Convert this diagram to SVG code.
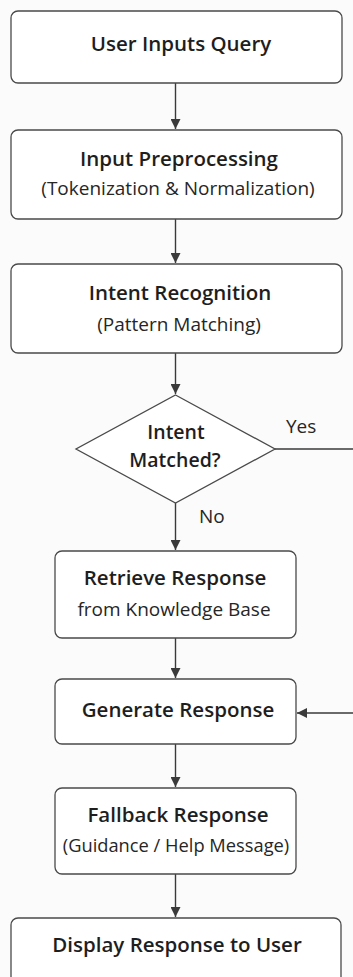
<svg xmlns="http://www.w3.org/2000/svg" width="353" height="977" viewBox="0 0 353 977">
  <style>
    .box { fill: #ffffff; stroke: #4a4a4a; stroke-width: 1.3; }
    .edge { fill: none; stroke: #3a3a3a; stroke-width: 1.4; }
    .title { font-family: "Open Sans", "Noto Sans", sans-serif; font-size: 20.5px; font-weight: 600; fill: #1e1e1e; text-anchor: middle; }
    .sub { font-family: "Open Sans", "Noto Sans", sans-serif; font-size: 19px; fill: #262626; text-anchor: middle; }
    .lbl { font-family: "Open Sans", "Noto Sans", sans-serif; font-size: 19px; fill: #262626; }
  </style>
  <defs>
    <marker id="arrow" viewBox="0 0 10 10" refX="10" refY="5" markerWidth="10" markerHeight="10" markerUnits="userSpaceOnUse" orient="auto">
      <path d="M0,0 L10,5 L0,10 z" fill="#3a3a3a"/>
    </marker>
  </defs>
  <rect width="353" height="977" fill="#fbfbfb"/>

  <g id="connectors">
    <path class="edge" d="M175.5,83 V129" marker-end="url(#arrow)"/>
    <path class="edge" d="M175.5,219 V263" marker-end="url(#arrow)"/>
    <path class="edge" d="M175.5,353 V394" marker-end="url(#arrow)"/>
    <path class="edge" d="M175.5,503 V550" marker-end="url(#arrow)"/>
    <path class="edge" d="M275,449 H353"/>
    <path class="edge" d="M175.5,638 V678" marker-end="url(#arrow)"/>
    <path class="edge" d="M353,713 H297" marker-end="url(#arrow)"/>
    <path class="edge" d="M175.5,744 V787" marker-end="url(#arrow)"/>
    <path class="edge" d="M175.5,874 V917" marker-end="url(#arrow)"/>
    <text class="lbl" x="286" y="433">Yes</text>
    <text class="lbl" x="199" y="523">No</text>
  </g>

  <g id="user-inputs-query">
    <rect class="box" x="11" y="11" width="331" height="72" rx="7"/>
    <text class="title" x="181" y="51">User Inputs Query</text>
  </g>

  <g id="input-preprocessing">
    <rect class="box" x="11" y="130" width="331" height="89" rx="7"/>
    <text class="title" x="179" y="166">Input Preprocessing</text>
    <text class="sub" x="178" y="195">(Tokenization &amp; Normalization)</text>
  </g>

  <g id="intent-recognition">
    <rect class="box" x="11" y="264" width="331" height="89" rx="7"/>
    <text class="title" x="180" y="300">Intent Recognition</text>
    <text class="sub" x="179" y="331">(Pattern Matching)</text>
  </g>

  <g id="intent-matched">
    <polygon class="box" points="175.5,395 275,449 175.5,503 76,449"/>
    <text class="title" x="176" y="439" style="font-size:19.5px">Intent</text>
    <text class="title" x="175" y="467" style="font-size:19.5px">Matched?</text>
  </g>

  <g id="retrieve-response">
    <rect class="box" x="55" y="551" width="241" height="87" rx="7"/>
    <text class="title" x="175" y="585">Retrieve Response</text>
    <text class="sub" x="174" y="616">from Knowledge Base</text>
  </g>

  <g id="generate-response">
    <rect class="box" x="55" y="679" width="241" height="65" rx="7"/>
    <text class="title" x="178" y="717">Generate Response</text>
  </g>

  <g id="fallback-response">
    <rect class="box" x="55" y="788" width="241" height="86" rx="7"/>
    <text class="title" x="178" y="822">Fallback Response</text>
    <text class="sub" x="176" y="852" style="font-size:18.3px">(Guidance / Help Message)</text>
  </g>

  <g id="display-response">
    <rect class="box" x="11" y="918" width="330" height="80" rx="7"/>
    <text class="title" x="177" y="952">Display Response to User</text>
  </g>
</svg>
